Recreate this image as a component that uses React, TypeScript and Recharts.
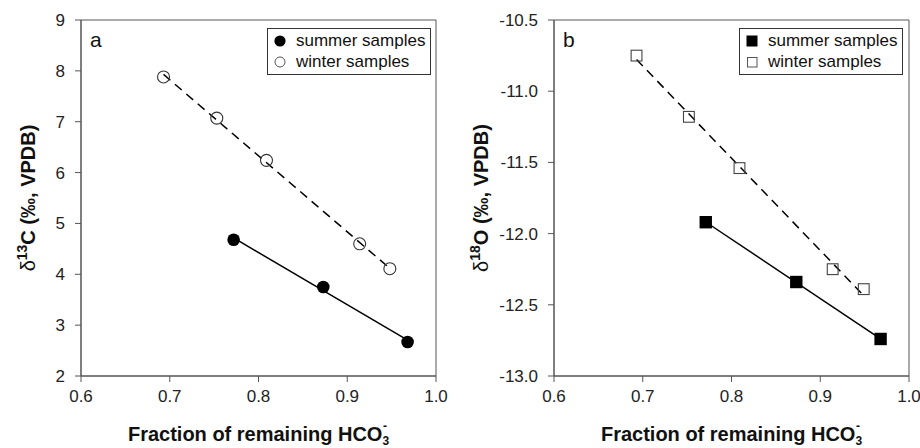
import { ScatterChart, Scatter, XAxis, YAxis, Legend, ReferenceArea } from "recharts";

const FONT = "'Liberation Sans', Arial, sans-serif";

const fractionTicks = [0.6, 0.7, 0.8, 0.9, 1.0];
const carbonTicks = [2, 3, 4, 5, 6, 7, 8, 9];
const oxygenTicks = [-13.0, -12.5, -12.0, -11.5, -11.0, -10.5];

// panel a: d13C
const summerCFraction = [0.772, 0.873, 0.968];
const summerC = [4.68, 3.75, 2.67];
const winterCFraction = [0.693, 0.753, 0.809, 0.914, 0.948];
const winterC = [7.88, 7.07, 6.24, 4.6, 4.11];

// panel b: d18O
const summerOFraction = [0.771, 0.873, 0.968];
const summerO = [-11.92, -12.34, -12.74];
const winterOFraction = [0.693, 0.752, 0.809, 0.914, 0.949];
const winterO = [-10.75, -11.18, -11.54, -12.25, -12.39];

const seriesNames = ["summer samples", "winter samples"];

const toPoints = (xs: number[], ys: number[]) => xs.map((x, i) => ({ x, y: ys[i] }));

const AXIS = "#555";

const FilledCircle = (p: any) => <circle cx={p.cx} cy={p.cy} r={6.3} fill="#000" />;
const OpenCircle = (p: any) => (
  <circle cx={p.cx} cy={p.cy} r={6} fill="none" stroke="#333" strokeWidth={1.1} />
);
const FilledSquare = (p: any) => (
  <rect x={p.cx - 6.2} y={p.cy - 6.2} width={12.4} height={12.4} fill="#000" />
);
const OpenSquare = (p: any) => (
  <rect x={p.cx - 5.4} y={p.cy - 5.4} width={10.8} height={10.8} fill="none" stroke="#444" strokeWidth={1.1} />
);

function LegendBox({ square }: { square: boolean }) {
  return (
    <div
      style={{
        border: "1px solid #333",
        background: "#fff",
        padding: "1px 5px 2px 5px",
        fontFamily: FONT,
        fontSize: 17,
        color: "#111",
        lineHeight: "20px",
      }}
    >
      {seriesNames.map((name, i) => (
        <div key={name} style={{ display: "flex", alignItems: "center", height: 21 }}>
          <svg width={14} height={14} style={{ marginRight: 9 }}>
            {square ? (
              i === 0 ? (
                <rect x={1.5} y={1.5} width={11} height={11} fill="#000" />
              ) : (
                <rect x={2.5} y={2.5} width={9.5} height={9.5} fill="none" stroke="#555" />
              )
            ) : i === 0 ? (
              <circle cx={7} cy={7} r={5.6} fill="#000" />
            ) : (
              <circle cx={7} cy={7} r={5} fill="none" stroke="#555" />
            )}
          </svg>
          <span>{name}</span>
        </div>
      ))}
    </div>
  );
}

function YLabel({ lx, iso, elem }: { lx: number; iso: string; elem: string }) {
  const cy = 198;
  return (
    <text
      x={lx}
      y={cy}
      transform={`rotate(-90, ${lx}, ${cy})`}
      textAnchor="middle"
      fontFamily={FONT}
      fontWeight="bold"
      fontSize={20}
      fill="#111"
    >
      <tspan fontWeight="normal">δ</tspan>
      <tspan dy={-8} fontSize={14}>
        {iso}
      </tspan>
      <tspan dy={8}>{elem} (‰, VPDB)</tspan>
    </text>
  );
}

function XLabel({ viewBox }: any) {
  const cx = viewBox.x + viewBox.width / 2;
  const y = 441;
  return (
    <text x={cx} y={y} textAnchor="middle" fontFamily={FONT} fontWeight="bold" fontSize={20} fill="#111">
      Fraction of remaining HCO
      <tspan dy={4} fontSize={12}>
        3
      </tspan>
      <tspan dx={-6} dy={-15} fontSize={12}>
        -
      </tspan>
    </text>
  );
}

function Panel({
  letter,
  yTicks,
  yDomain,
  yFormat,
  yAxisWidth,
  marginRight,
  summer,
  winter,
  square,
  legendLeft,
  labelX,
  iso,
  elem,
}: any) {
  const tickStyle = { fill: "#222", fontSize: 17, fontFamily: FONT };
  return (
    <ScatterChart width={460} height={448} margin={{ top: 20, right: marginRight, bottom: 0, left: 0 }}>
      <XAxis
        type="number"
        dataKey="x"
        domain={[0.6, 1.0]}
        ticks={fractionTicks}
        tickFormatter={(v: number) => v.toFixed(1)}
        tick={tickStyle}
        tickSize={6}
        tickMargin={8}
        stroke={AXIS}
        height={72}
        allowDataOverflow
        label={<XLabel />}
      />
      <YAxis
        type="number"
        dataKey="y"
        domain={yDomain}
        ticks={yTicks}
        tickFormatter={yFormat}
        tick={tickStyle}
        tickSize={6}
        tickMargin={10}
        stroke={AXIS}
        width={yAxisWidth}
        allowDataOverflow
      />
      <ReferenceArea
        x1={0.6}
        x2={1.0}
        y1={yDomain[0]}
        y2={yDomain[1]}
        fill="none"
        stroke={AXIS}
        strokeWidth={1}
        fillOpacity={0}
      />
      <Legend
        layout="vertical"
        align="center"
        verticalAlign="middle"
        wrapperStyle={{ left: legendLeft, top: 28, width: "auto" }}
        content={() => <LegendBox square={square} />}
      />
      <Scatter
        name={seriesNames[0]}
        data={summer}
        line={{ stroke: "#000", strokeWidth: 1.5 }}
        lineType="fitting"
        shape={square ? FilledSquare : FilledCircle}
        isAnimationActive={false}
      />
      <Scatter
        name={seriesNames[1]}
        data={winter}
        line={{ stroke: "#000", strokeWidth: 1.5, strokeDasharray: "9 6" }}
        lineType="fitting"
        shape={square ? OpenSquare : OpenCircle}
        isAnimationActive={false}
      />
      <text x={yAxisWidth + 9} y={47} fontFamily={FONT} fontSize={21} fill="#111">
        {letter}
      </text>
      <YLabel lx={labelX} iso={iso} elem={elem} />
    </ScatterChart>
  );
}

export default function App() {
  return (
    <div style={{ position: "absolute", left: 0, top: 0, width: 920, height: 448, background: "#fff", display: "flex" }}>
      <Panel
        letter="a"
        yTicks={carbonTicks}
        yDomain={[2, 9]}
        yFormat={(v: number) => String(v)}
        yAxisWidth={81}
        marginRight={24}
        summer={toPoints(summerCFraction, summerC)}
        winter={toPoints(winterCFraction, winterC)}
        square={false}
        legendLeft={267}
        labelX={35}
        iso="13"
        elem="C"
      />
      <Panel
        letter="b"
        yTicks={oxygenTicks}
        yDomain={[-13, -10.5]}
        yFormat={(v: number) => v.toFixed(1)}
        yAxisWidth={94}
        marginRight={11}
        summer={toPoints(summerOFraction, summerO)}
        winter={toPoints(winterOFraction, winterO)}
        square={true}
        legendLeft={279}
        labelX={28}
        iso="18"
        elem="O"
      />
    </div>
  );
}
